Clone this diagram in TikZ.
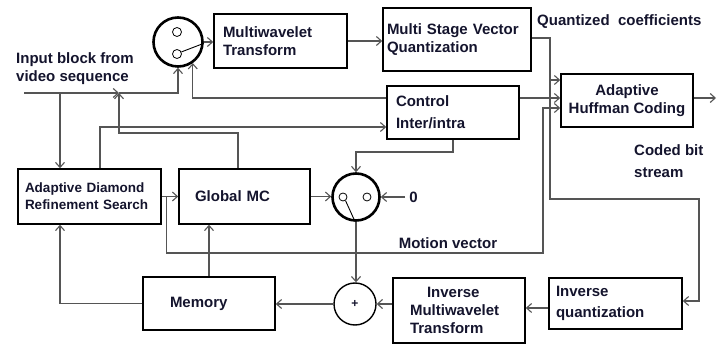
\documentclass[tikz,border=0pt]{standalone}
\usepackage{fontspec}
\setmainfont{Liberation Sans}
\usetikzlibrary{calc, arrows.meta}
\definecolor{inkc}{RGB}{20,20,45}
\definecolor{wirec}{RGB}{85,85,85}
\tikzset{
  % Blocks and switches
  blkbox/.style   = { draw=black, line width=1.6pt, minimum width=132pt, minimum height=53pt,
                       align=left, inner xsep=0pt, inner ysep=0pt, text=inkc,
                       font=\fontsize{15}{18}\selectfont\bfseries },
  swcircle/.style = { draw=black, line width=2.6pt, circle, minimum size=49pt, inner sep=0 },
  sumcircle/.style= { draw=black, line width=1.4pt, circle, minimum size=42pt, inner sep=0,
                       text=inkc, font=\fontsize{12}{14}\selectfont\bfseries },
  pinhole/.style  = { draw=black, line width=0.8pt, circle, minimum size=9pt, inner sep=0 },
  lever/.style    = { draw=black, line width=0.9pt },
  % Connectors and labels
  sigflow/.style  = { draw=wirec, line width=1.1pt, -{Straight Barb[length=5pt, width=9pt]} },
  sigline/.style  = { draw=wirec, line width=1.1pt },
  sidelabel/.style= { text=inkc, font=\fontsize{15}{18}\selectfont\bfseries, align=left, inner sep=0 }
}
\begin{document}
\begin{tikzpicture}[x=1pt, y=-1pt]
  \useasboundingbox (0,0) rectangle (723,344);

  % --- Blocks -------------------------------------------------------
  \node[blkbox, minimum width=133pt, minimum height=54pt, text width=115pt] (mwt) at (280.5,41) {Multiwavelet\\Transform};
  \node[blkbox, minimum width=148pt, minimum height=63pt, text width=140pt] (msvq) at (457,39.5) {Multi Stage Vector\\Quantization};
  \node[blkbox, align=center] (ahc) at (627,100.5) {Adaptive\\Huffman Coding};
  \node[blkbox, text width=114pt] (ctrl) at (453,112.5) {Control\\[4pt]Inter/intra};
  \node[blkbox, minimum width=143pt, minimum height=55pt, text width=129pt,
        font=\fontsize{13.5}{17}\selectfont\bfseries] (adrs) at (89.5,196.5) {Adaptive Diamond\\Refinement Search};
  \node[blkbox, minimum width=131pt, minimum height=55pt, text width=99pt] (gmc) at (244.5,196.5) {Global MC};
  \node[blkbox, text width=78pt] (mem) at (209,303.5) {Memory};
  \node[blkbox, minimum height=65pt, text width=98pt] (imt) at (459,310.5) {\hspace*{17pt}Inverse\\Multiwavelet\\Transform};
  \node[blkbox, minimum width=133pt, minimum height=51pt, text width=119pt] (iq) at (615.5,303.5) {Inverse\\[3pt]quantization};

  % --- Switches and adder -------------------------------------------
  \node[swcircle] (sw1) at (178,42) {};
  \node[pinhole] (sw1a) at (177,32) {};
  \node[pinhole] (sw1b) at (177,54) {};
  \draw[lever] (sw1b.25) -- (sw1.-3);
  \node[swcircle, minimum size=47pt] (sw2) at (356,197) {};
  \node[pinhole, minimum size=8pt] (sw2a) at (343,197) {};
  \node[pinhole, minimum size=8pt] (sw2b) at (367,197) {};
  \draw[lever] (sw2a.-55) -- (sw2.-92);
  \node[sumcircle] (add) at (355,304) {+};

  % --- Free labels --------------------------------------------------
  \node[sidelabel, anchor=west] (inlbl) at (16,69) {Input block from\\video sequence};
  \node[sidelabel, anchor=west] (qclbl) at (537,22) {Quantized\ \ coefficients};
  \node[sidelabel, anchor=west] (cbslbl) at (634,161) {Coded bit\\[4pt]stream};
  \node[sidelabel] (mvlbl) at (448,243) {Motion vector};
  \node[sidelabel] (zero) at (413.5,197) {0};

  \coordinate (in)  at (24,93);
  \coordinate (jin) at (119,93);
  \coordinate (jad) at (60,93);
  \coordinate (mv)  at ($(adrs.east)+(5,0)$);
  \coordinate (qc)  at (550,80);
  \coordinate (out) at (716,98);

  % --- Forward path -------------------------------------------------
  \draw[sigflow] (in) -- (jin);
  \draw[sigflow] (jin) -| (sw1.south);
  \draw[sigflow] (jad) -- (jad |- adrs.north);
  \draw[sigflow] (sw1.east) -- (mwt.west |- sw1.east);
  \draw[sigflow] (mwt.east) -- (msvq.west |- mwt.east);
  \draw[sigline] (msvq.east |- 0,38) -| (qc);
  \draw[sigflow] (qc) -- (ahc.west |- qc);
  \draw[sigflow] (qc) |- (699,199) |- (iq.east |- 0,301);
  \draw[sigflow] (ctrl.east |- 0,98) -- (ahc.west |- 0,98);
  \draw[sigflow] (ahc.east |- out) -- (out);

  % --- Control and motion -------------------------------------------
  \draw[sigflow] (ctrl.west |- 0,98) -| (sw1.-55);
  \draw[sigflow] (adrs.north -| 100,0) |- (ctrl.west |- 0,127);
  \draw[sigflow] (gmc.north -| 238,0) |- (jin |- 0,133) -- (jin);
  \draw[sigflow] (adrs.east) -- (gmc.west);
  \draw[sigflow] (mv) |- (543,253) |- (ahc.west |- 0,108);
  \draw[sigflow] (gmc.east) -- (sw2.west |- gmc.east);
  \draw[sigflow, shorten <=4pt] (zero.west) -- (sw2.east);
  \draw[sigflow] (ctrl.south) |- (sw2.north |- 0,152) -- (sw2.north);

  % --- Reconstruction loop ------------------------------------------
  \draw[sigflow] (sw2.south) -- (sw2.south |- add.north);
  \draw[sigflow] (iq.west |- 0,308) -- (imt.east |- 0,308);
  \draw[sigflow] (imt.west |- add.east) -- (add.east);
  \draw[sigflow] (add.west) -- (mem.east |- add.west);
  \draw[sigflow] (mem.north) -- (mem.north |- gmc.south);
  \draw[sigflow] (mem.west) -| (adrs.south -| jad);

\end{tikzpicture}
\end{document}
